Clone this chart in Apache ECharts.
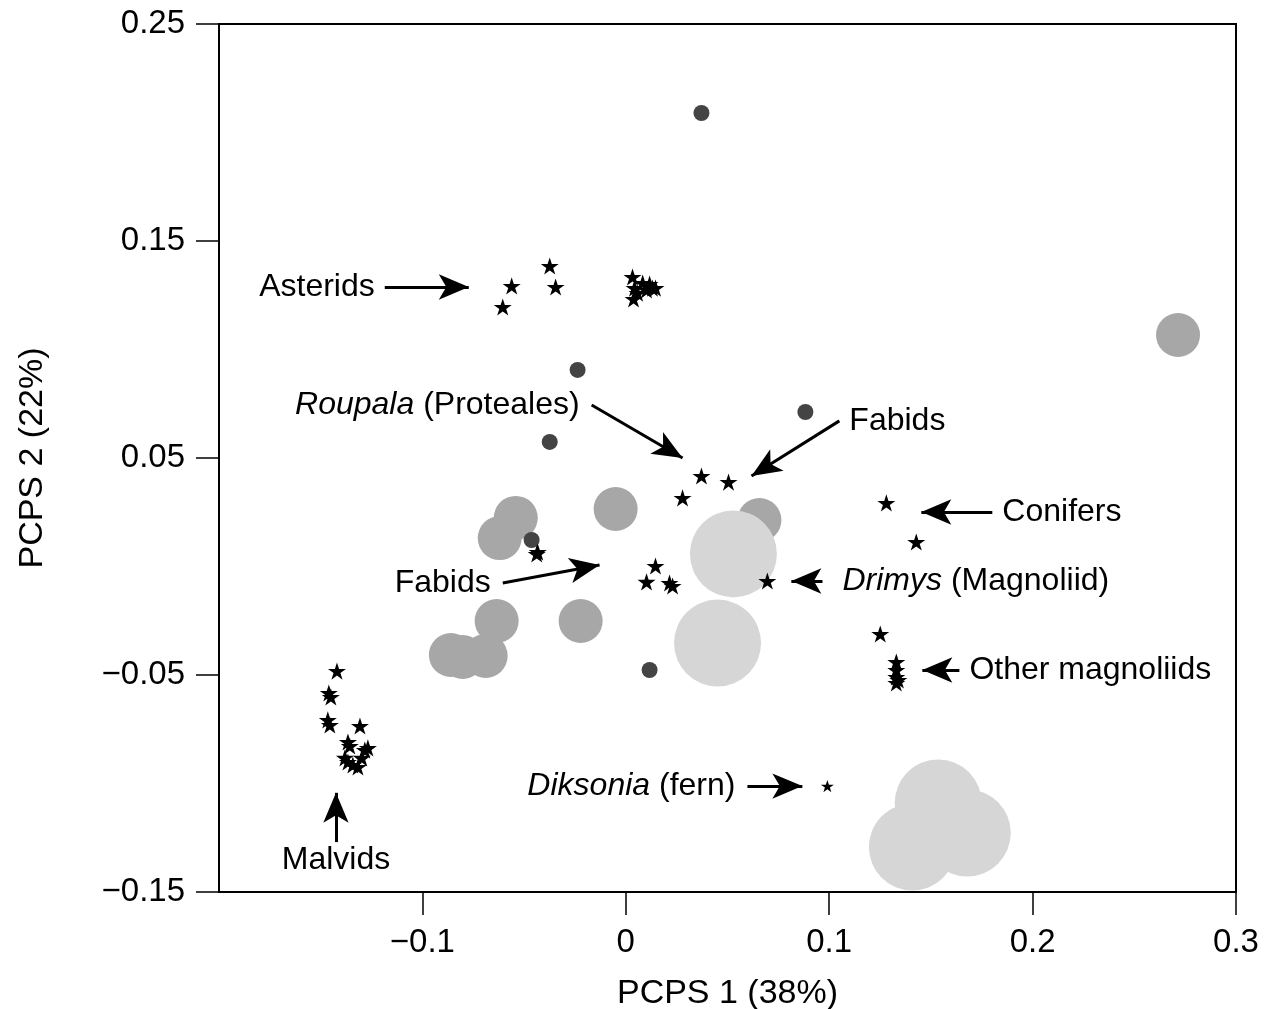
<!DOCTYPE html>
<html>
<head>
<meta charset="utf-8">
<script src="https://cdn.jsdelivr.net/npm/echarts@6/dist/echarts.min.js"></script>
<style>
html,body{margin:0;padding:0;background:#fff;}
#chart{width:1270px;height:1009px;}
</style>
</head>
<body>
<div id="chart"></div>
<script>
// ---- data (PCPS 1, PCPS 2) ----
var darkCircles = [
  [0.0372, 0.2090], [-0.0237, 0.0906], [0.0883, 0.0712],
  [-0.0374, 0.0574], [-0.0463, 0.0122], [0.0117, -0.0477]
];
var mediumCircles = [
  [0.2715, 0.1067], [-0.0541, 0.0224], [-0.0620, 0.0131], [-0.0050, 0.0265],
  [0.0657, 0.0214], [-0.0635, -0.0251], [-0.0222, -0.0251],
  [-0.0860, -0.0408], [-0.0802, -0.0417], [-0.0689, -0.0412]
];
var lightCircles = [
  [0.0529, 0.0058], [0.0451, -0.0353],
  [0.1536, -0.1090], [0.1679, -0.1228], [0.1409, -0.1293]
];
var starsAsterids = [
  [-0.0605, 0.1196], [-0.0561, 0.1293], [-0.0374, 0.1385], [-0.0345, 0.1288],
  [0.0033, 0.1334], [0.0043, 0.1283], [0.0038, 0.1233], [0.0083, 0.1306],
  [0.0102, 0.1274], [0.0131, 0.1283], [0.0058, 0.1260], [0.0117, 0.1302], [0.0146, 0.1283]
];
var starsMalvids = [
  [-0.1420, -0.0482], [-0.1460, -0.0583], [-0.1450, -0.0601], [-0.1465, -0.0707],
  [-0.1455, -0.0730], [-0.1307, -0.0735], [-0.1366, -0.0809], [-0.1357, -0.0827],
  [-0.1381, -0.0882], [-0.1366, -0.0901], [-0.1317, -0.0924], [-0.1283, -0.0846],
  [-0.1298, -0.0882], [-0.1268, -0.0836], [-0.1342, -0.0915]
];
var starsFabids = [
  [0.0372, 0.0417], [0.0505, 0.0389], [0.0279, 0.0316],
  [-0.0438, 0.0058], [-0.0433, 0.0067],
  [0.0146, 0.0002], [0.0102, -0.0071], [0.0215, -0.0076], [0.0230, -0.0090]
];
var starsDrimys = [[0.0696, -0.0067]];
var starsConifers = [[0.1281, 0.0293], [0.1428, 0.0113]];
var starsMagnoliids = [
  [0.1251, -0.0311], [0.1330, -0.0440], [0.1330, -0.0477],
  [0.1330, -0.0509], [0.1330, -0.0537], [0.1340, -0.0523]
];
var starsFern = [[0.0991, -0.1012]];

// ---- tick labels ----
var xTickValues = [-0.1, 0, 0.1, 0.2, 0.3];
var yTickValues = [-0.15, -0.05, 0.05, 0.15, 0.25];
var xAxisTitle = 'PCPS 1 (38%)';
var yAxisTitle = 'PCPS 2 (22%)';

// ---- annotations: label text, arrow tail, arrow tip ----
var annoTexts = ['Asterids', '{i|Roupala} (Proteales)', 'Fabids', 'Fabids', 'Conifers',
                 '{i|Drimys} (Magnoliid)', 'Other magnoliids', '{i|Diksonia} (fern)', 'Malvids'];
var annoFrom = [[-0.1185, 0.1288], [-0.0168, 0.0744], [0.1050, 0.0671], [-0.0605, -0.0076],
                [0.1802, 0.0251], [0.0967, -0.0067], [0.1640, -0.0477], [0.0598, -0.1012], [-0.1425, -0.1270]];
var annoTo = [[-0.0772, 0.1288], [0.0279, 0.0500], [0.0618, 0.0417], [-0.0129, 0.0007],
              [0.1453, 0.0251], [0.0814, -0.0067], [0.1458, -0.0477], [0.0868, -0.1012], [-0.1425, -0.1043]];
var annoSide = ['left', 'left', 'right', 'left', 'right', 'right', 'right', 'left', 'bottom'];
var annoGap = [10, 12, 10, 12, 10, 20, 10, 12, 2];

var FONT = "'Liberation Sans', Arial, Helvetica, sans-serif";
var STAR = 'path://M50,0 L61.2,34.5 L97.6,34.5 L68.2,55.9 L79.4,90.5 L50,69.1 L20.6,90.5 L31.8,55.9 L2.4,34.5 L38.8,34.5 Z';

function fmt(v) {
  var s = String(Math.abs(v));
  return v < 0 ? '\u2212' + s : s;
}

function starSeries(name, data, size) {
  return {
    name: name, type: 'scatter', data: data, symbol: STAR, symbolSize: size,
    symbolKeepAspect: true, itemStyle: {color: '#000', opacity: 1}, z: 5, silent: true
  };
}

var allStars = [].concat(starsAsterids, starsMalvids, starsFabids, starsDrimys,
                         starsConifers, starsMagnoliids);

var labelData = annoTexts.map(function (t, i) {
  return {
    value: annoFrom[i],
    label: {
      show: true, position: annoSide[i], distance: annoGap[i],
      formatter: t, color: '#000', fontSize: 32, fontFamily: FONT,
      rich: {i: {fontStyle: 'italic', fontSize: 32, fontFamily: FONT, color: '#000'}}
    }
  };
});

var arrowData = annoTexts.map(function (t, i) {
  return [
    {coord: annoFrom[i], symbol: 'none'},
    {coord: annoTo[i], symbol: 'arrow', symbolSize: [19, 30]}
  ];
});

var chart = echarts.init(document.getElementById('chart'), null, {renderer: 'canvas'});
chart.setOption({
  backgroundColor: '#fff',
  animation: false,
  grid: {left: 219, right: 34, top: 24, bottom: 117, show: true, outerBoundsMode: 'none',
         containLabel: false,
         borderColor: '#000', borderWidth: 2, backgroundColor: 'transparent'},
  xAxis: {
    type: 'value', min: -0.2, max: 0.3,
    name: xAxisTitle, nameLocation: 'middle', nameGap: 85,
    nameTextStyle: {fontSize: 34, fontFamily: FONT, color: '#000'},
    axisLine: {show: true, onZero: false, lineStyle: {color: '#000', width: 2}},
    axisTick: {show: true, length: 23, customValues: xTickValues, lineStyle: {color: '#000', width: 1.5}},
    axisLabel: {show: true, customValues: xTickValues, margin: 34, formatter: fmt,
                fontSize: 33, fontFamily: FONT, color: '#000'},
    splitLine: {show: false}
  },
  yAxis: {
    type: 'value', min: -0.15, max: 0.25,
    name: yAxisTitle, nameLocation: 'middle', nameGap: 169, nameRotate: 90,
    nameTextStyle: {fontSize: 34, fontFamily: FONT, color: '#000'},
    axisLine: {show: true, onZero: false, lineStyle: {color: '#000', width: 2}},
    axisTick: {show: true, length: 23, customValues: yTickValues, lineStyle: {color: '#000', width: 1.5}},
    axisLabel: {show: true, customValues: yTickValues, margin: 34, formatter: fmt,
                fontSize: 33, fontFamily: FONT, color: '#000'},
    splitLine: {show: false}
  },
  series: [
    {name: 'medium', type: 'scatter', data: mediumCircles, symbol: 'circle', symbolSize: 44,
     itemStyle: {color: '#a7a7a7', opacity: 1}, z: 2, silent: true},
    {name: 'light', type: 'scatter', data: lightCircles, symbol: 'circle', symbolSize: 87,
     itemStyle: {color: '#d6d6d6', opacity: 1}, z: 3, silent: true},
    {name: 'dark', type: 'scatter', data: darkCircles, symbol: 'circle', symbolSize: 16,
     itemStyle: {color: '#444444', opacity: 1}, z: 4, silent: true},
    starSeries('stars', allStars, 18),
    starSeries('fern', starsFern, 13),
    {
      name: 'annotations', type: 'scatter', data: labelData, symbolSize: 0, z: 6, silent: true,
      itemStyle: {opacity: 1},
      markLine: {
        silent: true, animation: false, symbol: ['none', 'arrow'],
        lineStyle: {color: '#000', width: 3, type: 'solid', opacity: 1},
        itemStyle: {color: '#000'},
        label: {show: false},
        data: arrowData
      }
    }
  ]
});
</script>
</body>
</html>
